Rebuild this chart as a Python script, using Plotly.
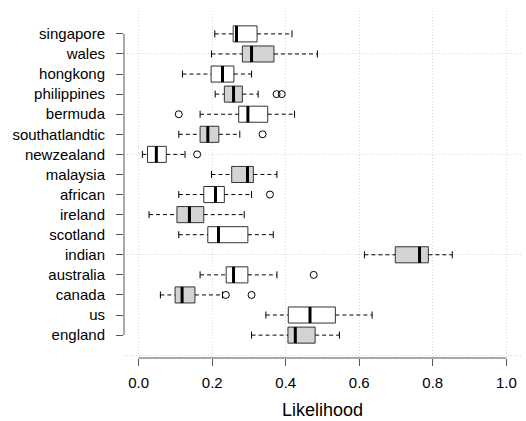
import plotly.graph_objects as go

categories = ["england", "us", "canada", "australia", "indian", "scotland", "ireland",
              "african", "malaysia", "newzealand", "southatlandtic", "bermuda",
              "philippines", "hongkong", "wales", "singapore"]
lower = [0.307, 0.346, 0.059, 0.167, 0.614, 0.109, 0.028, 0.109, 0.198, 0.010, 0.109, 0.167, 0.208, 0.119, 0.198, 0.207]
q1 = [0.406, 0.407, 0.099, 0.238, 0.698, 0.188, 0.104, 0.177, 0.253, 0.024, 0.167, 0.272, 0.233, 0.197, 0.282, 0.257]
median = [0.426, 0.466, 0.118, 0.258, 0.764, 0.217, 0.138, 0.209, 0.296, 0.048, 0.188, 0.297, 0.258, 0.228, 0.307, 0.266]
q3 = [0.480, 0.535, 0.153, 0.297, 0.788, 0.297, 0.177, 0.233, 0.312, 0.075, 0.218, 0.351, 0.282, 0.259, 0.368, 0.322]
upper = [0.546, 0.635, 0.228, 0.376, 0.853, 0.366, 0.287, 0.307, 0.376, 0.126, 0.275, 0.424, 0.325, 0.307, 0.486, 0.417]
outlier_cat = ["canada", "canada", "australia", "african", "newzealand", "southatlandtic", "bermuda", "philippines", "philippines"]
outlier_val = [0.237, 0.307, 0.476, 0.357, 0.159, 0.337, 0.109, 0.375, 0.389]
x_ticks = [0.0, 0.2, 0.4, 0.6, 0.8, 1.0]
x_labels = ["0.0", "0.2", "0.4", "0.6", "0.8", "1.0"]

FONT = "Liberation Sans, Arial, sans-serif"
pos = list(range(1, len(categories) + 1))
BW = 0.8
ST = 0.35
edge = "#333333"
GRID = "#D9D9D9"

fig = go.Figure()

# boxes
for i, c in enumerate(categories):
    fig.add_trace(go.Box(
        y=[pos[i]], q1=[q1[i]], median=[median[i]], q3=[q3[i]],
        lowerfence=[q1[i]], upperfence=[q3[i]], orientation="h",
        width=BW, whiskerwidth=0,
        fillcolor="#D3D3D3" if i % 2 == 0 else "white",
        line=dict(color=edge, width=1), hoverinfo="skip", showlegend=False))

# dashed whiskers
wx, wy = [], []
for i in range(len(categories)):
    wx += [lower[i], q1[i], None, q3[i], upper[i], None]
    wy += [pos[i], pos[i], None, pos[i], pos[i], None]
fig.add_trace(go.Scatter(x=wx, y=wy, mode="lines", line=dict(color="black", width=1, dash="4px,3px"),
                         hoverinfo="skip", showlegend=False))

# staples
sx, sy = [], []
for i in range(len(categories)):
    for v in (lower[i], upper[i]):
        sx += [v, v, None]
        sy += [pos[i] - ST / 2, pos[i] + ST / 2, None]
fig.add_trace(go.Scatter(x=sx, y=sy, mode="lines", line=dict(color="black", width=1),
                         hoverinfo="skip", showlegend=False))

# medians
mx, my = [], []
for i in range(len(categories)):
    mx += [median[i], median[i], None]
    my += [pos[i] - BW / 2, pos[i] + BW / 2, None]
fig.add_trace(go.Scatter(x=mx, y=my, mode="lines", line=dict(color="black", width=3),
                         hoverinfo="skip", showlegend=False))

# outliers
fig.add_trace(go.Scatter(x=outlier_val, y=[pos[categories.index(c)] for c in outlier_cat],
                         mode="markers",
                         marker=dict(symbol="circle-open", size=7, color="black", line=dict(width=1)),
                         hoverinfo="skip", showlegend=False))

# axis lines (R style, spanning only tick range)
fig.add_shape(type="line", xref="x", yref="paper", x0=x_ticks[0], x1=x_ticks[-1], y0=0, y1=0,
              line=dict(color="#555555", width=1))
fig.add_shape(type="line", xref="paper", yref="y", x0=0, x1=0, y0=pos[0], y1=pos[-1],
              line=dict(color="#555555", width=1))

fig.update_layout(
    width=526, height=421,
    margin=dict(l=124, r=5, t=11, b=63, autoexpand=False),
    paper_bgcolor="white", plot_bgcolor="white",
    font=dict(family=FONT, size=15, color="black"),
    showlegend=False,
    xaxis=dict(range=[-0.04, 1.04], tickvals=x_ticks, ticktext=x_labels,
               ticks="outside", ticklen=7, tickcolor="#555555", showline=False, zeroline=False,
               showgrid=True, gridcolor=GRID, griddash="1px,2px", gridwidth=1,
               title=dict(text="Likelihood", font=dict(size=18), standoff=13),
               ticklabelstandoff=4, automargin=False),
    yaxis=dict(range=[-0.14, 17.14], tickvals=pos, ticktext=categories,
               ticks="outside", ticklen=7, tickcolor="#555555", showline=False, zeroline=False,
               showgrid=False, ticklabelstandoff=8, automargin=False,
               minor=dict(tickvals=[0, 5, 10, 15], showgrid=True, gridcolor=GRID,
                          griddash="1px,2px", gridwidth=1, ticks="")),
)

fig.write_html("out.html", config={"displayModeBar": False},
               post_script="document.body.style.margin='0px';")
